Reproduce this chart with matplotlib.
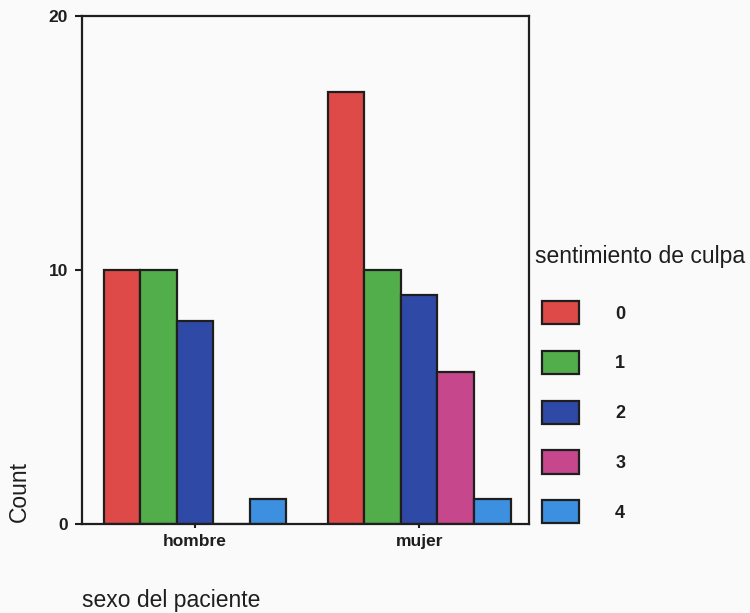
import numpy as np
import matplotlib
matplotlib.use('Agg')
import matplotlib.pyplot as plt

plt.rcParams['font.family'] = ['Liberation Sans', 'DejaVu Sans']

# data
sexo = ['hombre', 'mujer']
culpa = ['0', '1', '2', '3', '4']
hombre = [10, 10, 8, 0, 1]
mujer = [17, 10, 9, 6, 1]
colores = ['#de4a47', '#52ad4b', '#2f49a6', '#c6478b', '#3d90e0']
yticks = [0, 10, 20]

ink = '#1e1e1e'

fig = plt.figure(figsize=(7.5, 6.13), dpi=100, facecolor='#fafafa')
ax = fig.add_axes([82 / 750, 1 - 524 / 613, 447 / 750, 508 / 613])
ax.set_facecolor('#fafafa')

x = np.arange(len(sexo))
w = 0.163
counts = np.array([hombre, mujer])
handles = []
for i, lab in enumerate(culpa):
    b = ax.bar(x + (i - 2) * w, counts[:, i], width=w, color=colores[i],
               edgecolor=ink, linewidth=1.6, label=lab)
    handles.append(b)

ax.set_xlim(-0.505, 1.49)
ax.set_ylim(0, 20)
ax.set_xticks(x)
ax.set_xticklabels(sexo, fontsize=12.5, fontweight='bold', color=ink)
ax.set_yticks(yticks)
ax.set_yticklabels([str(t) for t in yticks], fontsize=12.5,
                   fontweight='bold', color=ink)
ax.tick_params(axis='y', direction='out', length=5, width=1.5, pad=5, colors=ink)
ax.tick_params(axis='x', direction='out', length=3, width=1.5, pad=4, colors=ink)
for s in ax.spines.values():
    s.set_linewidth(1.6)
    s.set_color(ink)

fig.text(19 / 750, 1 - 492 / 613, 'Count', rotation=90, fontsize=16.5,
         color=ink, ha='center', va='center')
fig.text(82 / 750, 1 - 600 / 613, 'sexo del paciente', fontsize=16.5,
         color=ink, ha='left', va='center')

leg = ax.legend(handles=handles, title='sentimiento de culpa', loc='upper left',
                bbox_to_anchor=(542 / 750, 1 - 245 / 613),
                bbox_transform=fig.transFigure, frameon=False,
                fontsize=13, title_fontsize=16.5, alignment='left',
                handlelength=2.05, handleheight=1.59, labelspacing=1.48,
                handletextpad=2.0, borderpad=0, borderaxespad=0)
leg._legend_box.sep = 23.8  # gap between title and entries (points)
leg.get_title().set_position((-7, 0))
for t in leg.get_texts():
    t.set_fontweight('bold')
    t.set_color(ink)
leg.get_title().set_color(ink)

fig.savefig('out.png', dpi=100, facecolor=fig.get_facecolor())
